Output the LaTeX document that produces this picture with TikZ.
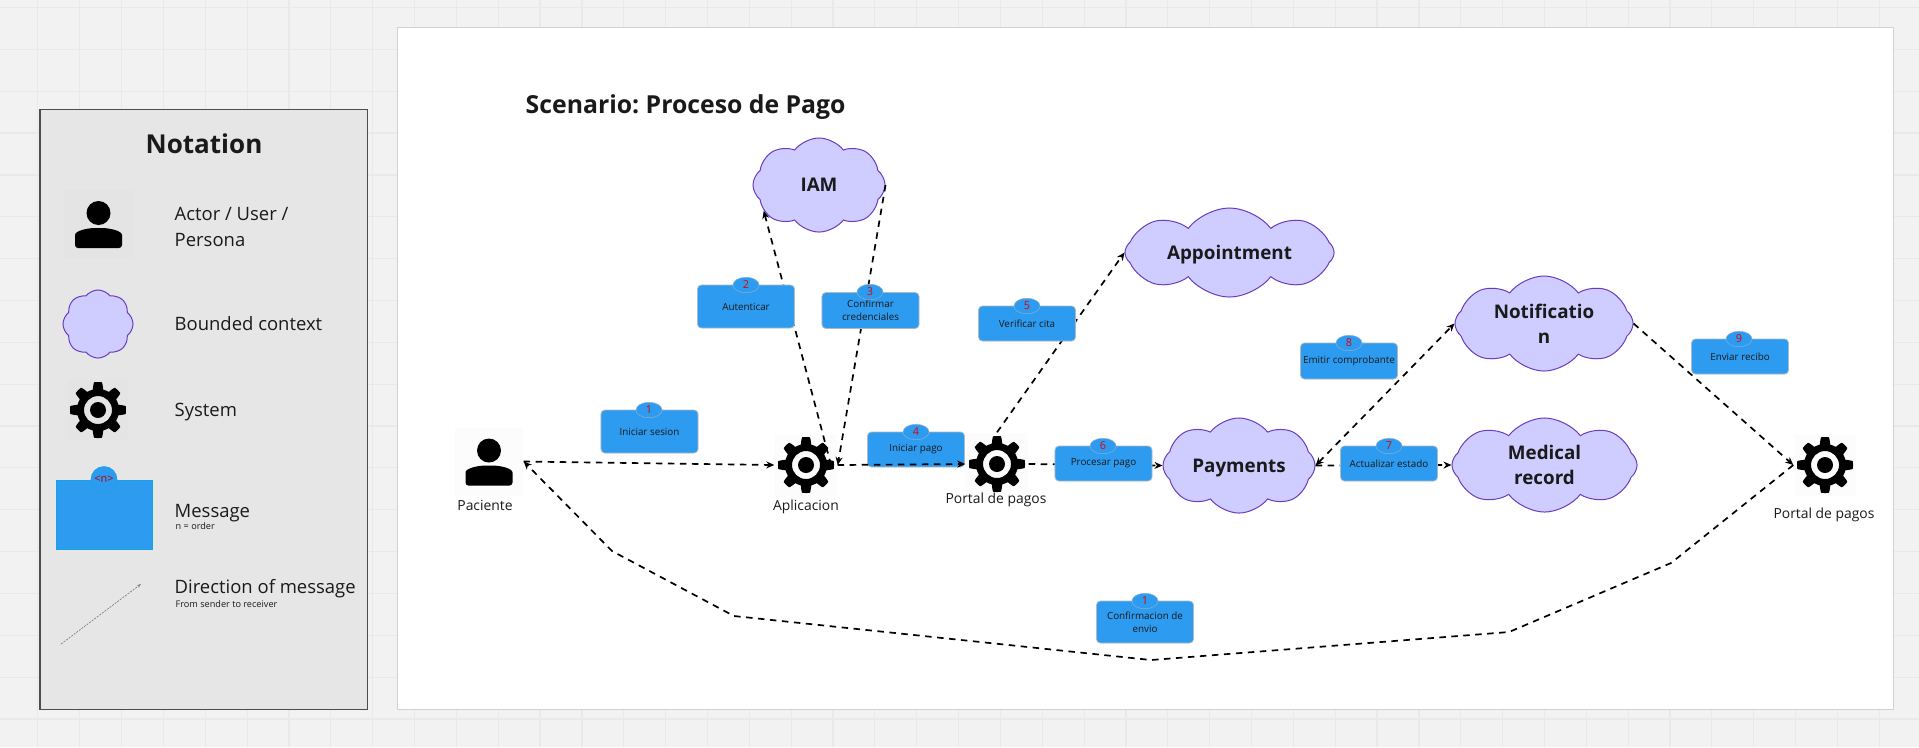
\documentclass[tikz,border=0pt]{standalone}
\usepackage{fontspec}
\setmainfont{Open Sans}
\usetikzlibrary{
  arrows.meta,
  shapes.geometric,
  shapes.symbols
}
\definecolor{canvasbg}{HTML}{F2F2F2}
\definecolor{canvasln}{HTML}{E9E9E9}
\definecolor{legendbg}{HTML}{E6E6E6}
\definecolor{msgblue}{HTML}{2D9BF0}
\definecolor{msgedge}{HTML}{AEB9C4}
\definecolor{cloudfill}{HTML}{CFCDFF}
\definecolor{cloudedge}{HTML}{6A3DBE}
\definecolor{inktext}{HTML}{1A1A1A}
\tikzset{
  gearicon/.pic={
    \fill[black, even odd rule] plot[domain=0:360, samples=289, variable=\t]
      ({(21+7*min(1,max(0,0.5+1.2*cos(8*\t))))*cos(\t)},
       {(21+7*min(1,max(0,0.5+1.2*cos(8*\t))))*sin(\t)}) -- cycle
      (0,0) circle[radius=14] (0,0) circle[radius=8];
  },
  personicon/.pic={
    \fill[black] (0,-11) circle[radius=12];
    \fill[black, rounded corners=0.03cm] (-23.5,24) -- (-23.5,14)
      .. controls (-23.5,7) and (-12,4) .. (0,4)
      .. controls (12,4) and (23.5,7) .. (23.5,14) -- (23.5,24) -- cycle;
  }
}
\begin{document}
\frenchspacing
\begin{tikzpicture}[
		x=0.01cm, y=-0.01cm,
		panel/.style={draw=black!18, fill=white, line width=0.012cm},
		ico/.style={minimum size=0.68cm, inner sep=0pt, fill=gray, fill opacity=0.02},
		cl/.style={cloud, cloud puffs=8, cloud puff arc=105, cloud ignores aspect, draw=cloudedge, fill=cloudfill,
			line width=0.01cm, inner sep=0pt, align=center, text=inktext, text depth=0pt,
			font=\bfseries\fontsize{5.35}{7.1}\selectfont},
		msg/.style={draw=msgedge, fill=msgblue, rounded corners=0.04cm, line width=0.008cm,
			minimum width=0.97cm, inner sep=0pt, align=center, text=inktext,
			font=\fontsize{2.8}{3.8}\selectfont},
		badge/.style={ellipse, draw=msgedge!70!msgblue, fill=msgblue, line width=0.005cm,
			minimum width=0.26cm, minimum height=0.155cm, inner sep=0pt, text=red!90!black,
			font=\fontsize{3.1}{3.8}\selectfont},
		lbl/.style={text=inktext, inner sep=0pt, font=\fontsize{3.95}{5}\selectfont},
		leg/.style={anchor=west, align=left, text=inktext, inner sep=0pt,
			font=\fontsize{5.25}{7.6}\selectfont},
		legsm/.style={anchor=west, text=inktext, inner sep=0pt,
			font=\fontsize{2.6}{3.2}\selectfont},
		ed/.style={-{Stealth[length=0.08cm, width=0.07cm]}, black, line width=0.017cm,
			dash pattern=on 0.065cm off 0.055cm}
		]
		\useasboundingbox (0,0) rectangle (1919,747);
		\fill[canvasbg] (0,0) rectangle (1919,747);
		\foreach \gx in {0,...,46} {
			\draw[canvasln, line width=0.012cm] ({-4+41.85*\gx},0) -- ({-4+41.85*\gx},747);
		}
		\foreach \gy in {0,...,17} {
			\draw[canvasln, line width=0.012cm] (0,{7.5+41.85*\gy}) -- (1919,{7.5+41.85*\gy});
		}

		% legend
		\node[draw=black!70, fill=legendbg, line width=0.012cm, minimum width=3.27cm,
			minimum height=5.99cm, inner sep=0pt] (legend) at (203.5,409.5) {};
		\node[text=inktext, inner sep=0pt, font=\bfseries\fontsize{7.4}{9}\selectfont]
			(legtitle) at (204,144) {Notation};
		\node[ico] (legactor) at (98.5,224) {};
		\pic at (legactor.center) {personicon};
		\node[leg] (legactortx) at (174,227) {Actor / User /\\Persona};
		\node[cl, minimum width=0.70cm, minimum height=0.68cm] (legcloud) at (98,324) {};
		\node[leg] (legcloudtx) at (174,324) {Bounded context};
		\node[ico, minimum size=0.6cm] (leggear) at (98,410) {};
		\pic at (leggear.center) {gearicon};
		\node[leg] (leggeartx) at (174,412) {System};
		\node[fill=msgblue, draw=cyan!70!msgblue, line width=0.008cm, minimum width=0.96cm,
			minimum height=0.69cm, inner sep=0pt] (legmsg) at (104.5,514.5) {};
		\node[circle, fill=msgblue, draw=cyan!70!msgblue, line width=0.006cm, minimum size=0.26cm,
			inner sep=0pt, text=red!70!black, font=\fontsize{3.1}{3.8}\selectfont]
			(legbadge) at (104,479.5) {<n>};
		\node[leg] (legmsgtx) at (174,513) {Message};
		\node[legsm] (legmsgsm) at (175,526) {n = order};
		\coordinate (dirA) at (61,644);
		\coordinate (dirB) at (141,584);
		\draw[-{Stealth[length=0.04cm, width=0.03cm]}, black!50, line width=0.007cm,
			dash pattern=on 0.02cm off 0.012cm] (dirA) -- (dirB);
		\node[leg] (legdirtx) at (174,589) {Direction of message};
		\node[legsm] (legdirsm) at (175,604) {From sender to receiver};

		% scenario panel
		\node[panel, minimum width=14.95cm, minimum height=6.81cm, inner sep=0pt]
			(scene) at (1145.5,368.5) {};
		\node[text=inktext, inner sep=0pt, anchor=west, font=\bfseries\fontsize{7.05}{8}\selectfont]
			(title) at (525,107) {Scenario: Proceso de Pago};

		% contexts
		\node[cl, minimum width=1.32cm, minimum height=0.94cm] (iam) at (819,185) {IAM};
		\node[cl, minimum width=2.09cm, minimum height=0.89cm] (appt) at (1229.5,252.5) {Appointment};
		\node[cl, minimum width=1.52cm, minimum height=0.95cm] (pay) at (1239,465.5) {Payments};
		\node[cl, minimum width=1.78cm, minimum height=0.95cm] (notif) at (1544,323.5) {Notificatio\\n};
		\node[cl, minimum width=1.85cm, minimum height=0.94cm] (med) at (1544.5,465) {Medical\\record};

		% actor and systems
		\node[ico] (pac) at (489,461.5) {};
		\node[ico, minimum size=0.62cm] (app) at (806,465) {};
		\node[ico, minimum size=0.62cm] (portal) at (997,464) {};
		\node[ico, minimum size=0.62cm] (portalb) at (1825,465) {};
		\node[lbl] (pactx) at (485,505) {Paciente};
		\node[lbl] (apptx) at (806,507) {Aplicacion};
		\node[lbl] (portaltx) at (996,500) {Portal de pagos};
		\node[lbl] (portalbtx) at (1824,515) {Portal de pagos};

		% connectors
		\coordinate (appout) at (831,465);
		\coordinate (cr) at (1671,563);
		\coordinate (crb) at (1509,632);
		\coordinate (cm) at (1151,660);
		\coordinate (clb) at (734,616);
		\coordinate (cl) at (612,551);
		\draw[ed] (pac.east) -- (app.west);
		\draw[ed] (appout) -- (iam.205);
		\draw[ed] (iam.east) -- (app.east);
		\draw[ed] (portal.north) -- (appt.west);
		\draw[ed] (portal.east) -- (pay.west);
		\draw[ed] (pay.east) -- (med.west);
		\draw[ed, {Stealth[length=0.08cm, width=0.07cm]}-{Stealth[length=0.08cm, width=0.07cm]}] (pay.east) -- (notif.west);
		\draw[ed] (notif.east) -- (portalb.west);
		\draw[ed] (portalb.west) -- (cr) -- (crb) -- (cm) -- (clb) -- (cl) -- (pac.east);

		% icons on top of the line ends
		\pic at (pac.center) {personicon};
		\pic at (app.center) {gearicon};
		\pic at (portal.center) {gearicon};
		\pic at (portalb.center) {gearicon};

		% messages
		\node[msg, minimum height=0.43cm] (m1) at (649.5,431.5) {Iniciar sesion};
		\node[badge] (b1) at (649,410) {1};
		\node[msg, minimum height=0.43cm] (m2) at (746,306.5) {Autenticar};
		\node[badge] (b2) at (746,285) {2};
		\node[msg, minimum height=0.36cm] (m3) at (870.5,310.5) {Confirmar\\credenciales};
		\node[badge] (b3) at (870,292) {3};
		\node[msg, minimum height=0.35cm] (m4) at (916,449.5) {Iniciar pago};
		\node[badge] (b4) at (916,432) {4};
		\node[msg, minimum height=0.35cm] (m5) at (1027,323.5) {Verificar cita};
		\node[badge] (b5) at (1027,306) {5};
		\node[msg, minimum height=0.35cm] (m6) at (1103.5,463.5) {Procesar pago};
		\node[badge] (b6) at (1103,446) {6};
		\node[msg, minimum height=0.35cm] (m7) at (1389,463.5) {Actualizar estado};
		\node[badge] (b7) at (1389,446) {7};
		\node[msg, minimum height=0.36cm] (m8) at (1349,361) {Emitir comprobante};
		\node[badge] (b8) at (1349,343) {8};
		\node[msg, minimum height=0.35cm] (m9) at (1740,356.5) {Enviar recibo};
		\node[badge] (b9) at (1739,339) {9};
		\node[msg, minimum height=0.42cm] (m10) at (1145,622) {Confirmacion de\\envio};
		\node[badge] (b10) at (1145,601) {1};
		\draw[ed] (app.east) -- (portal.west);
	\end{tikzpicture}
\end{document}
